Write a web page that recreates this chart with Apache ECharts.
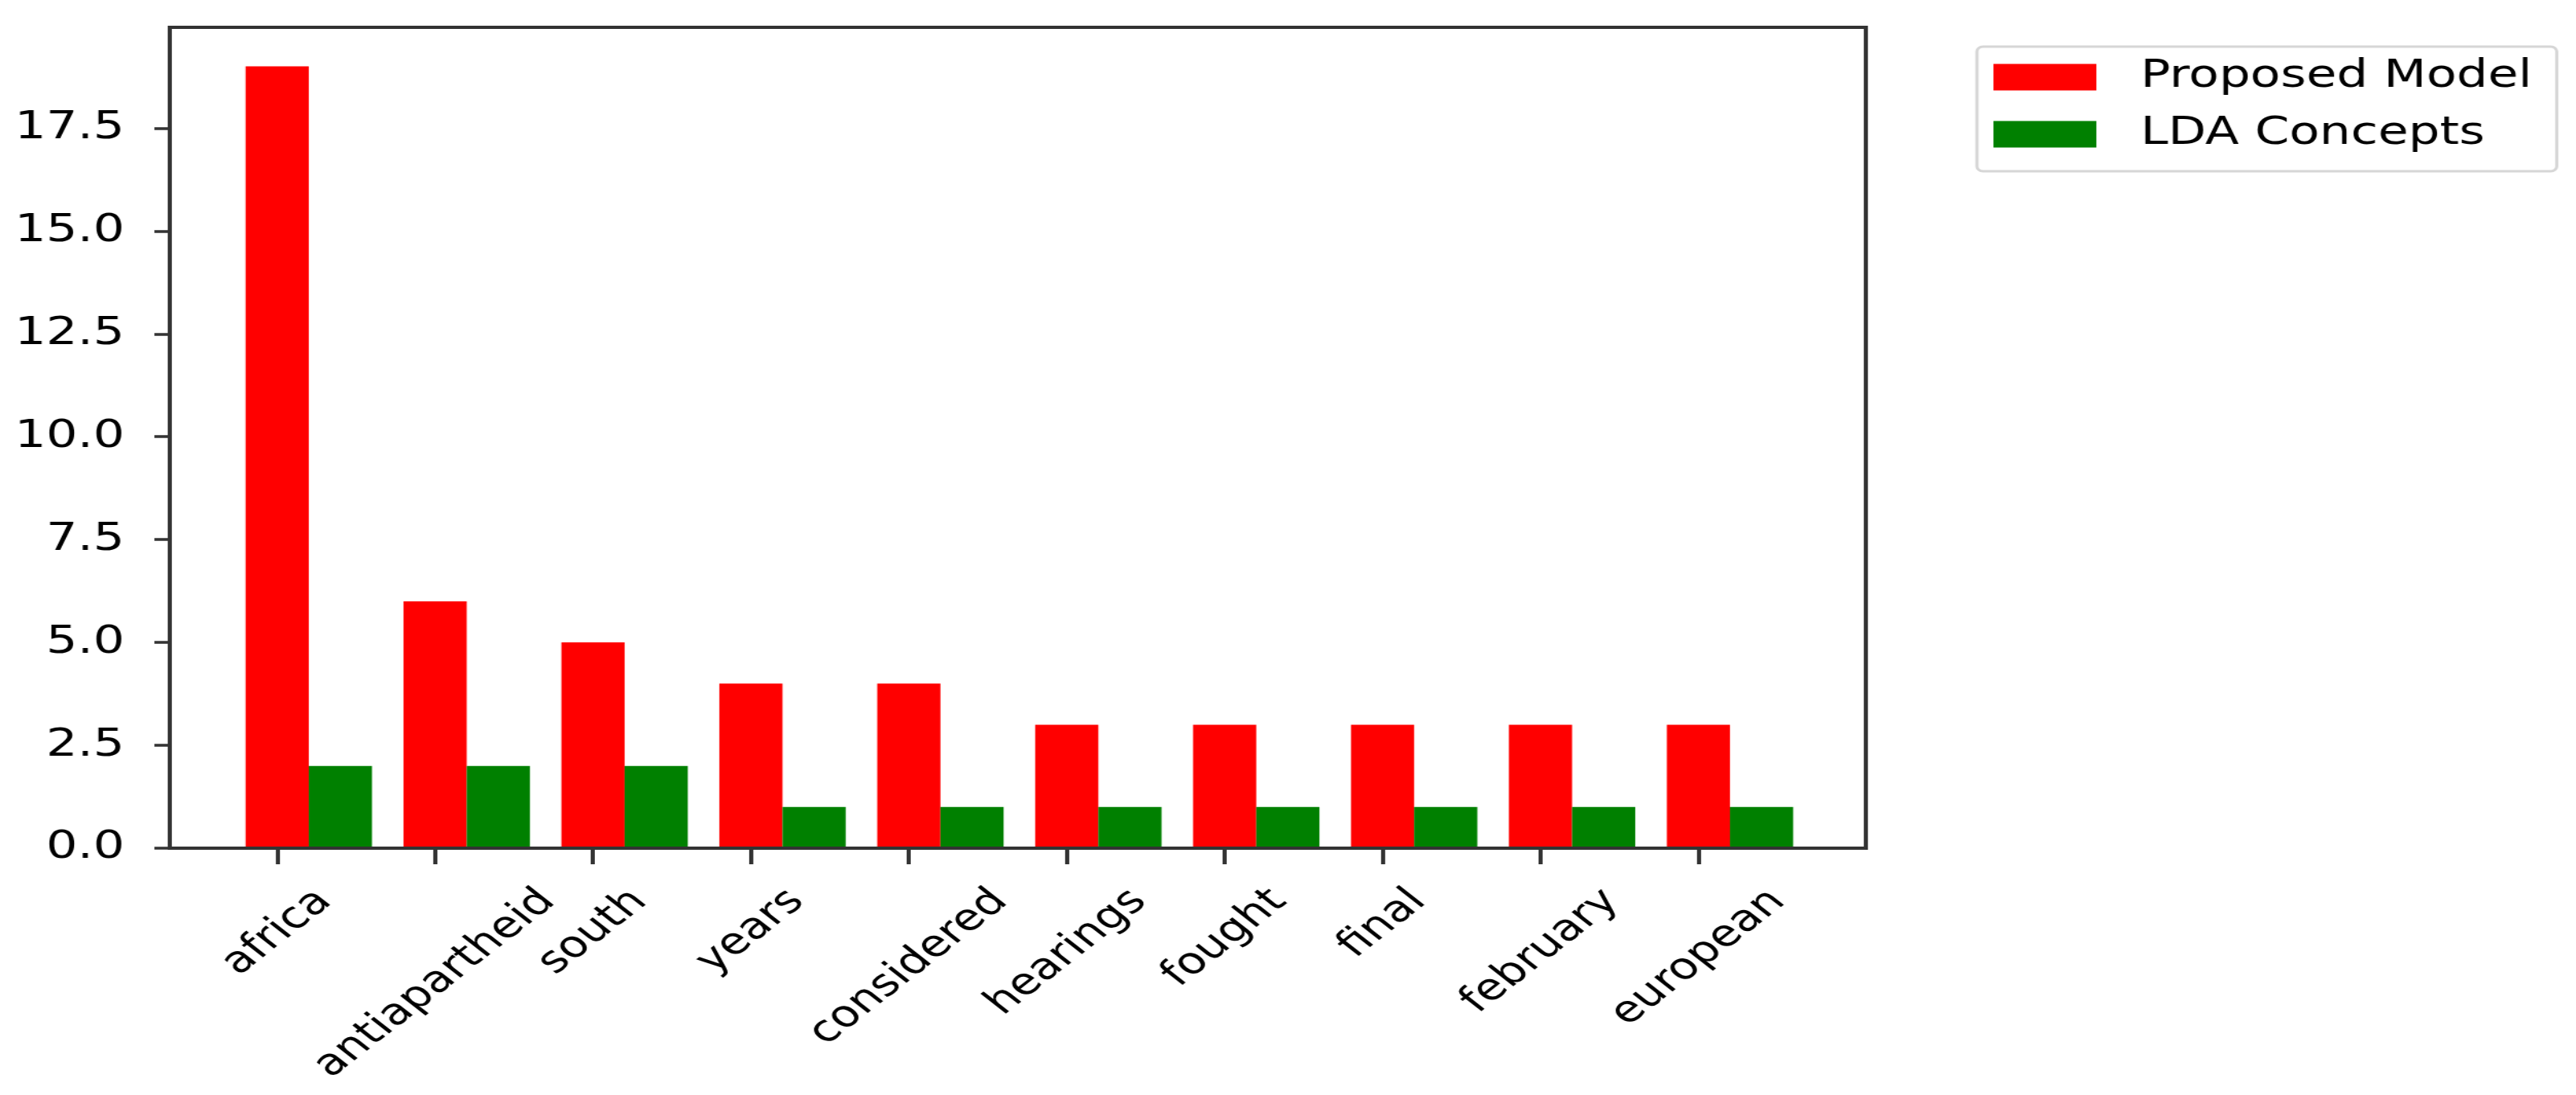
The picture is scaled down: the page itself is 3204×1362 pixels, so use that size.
<!DOCTYPE html>
<html><head><meta charset="utf-8">
<script src="https://cdn.jsdelivr.net/npm/echarts@6/dist/echarts.min.js"></script>
<style>
html,body{margin:0;padding:0;background:#fff;overflow:hidden;width:3204px;height:1362px}
#wrap{width:2503px;height:1362px;transform:scaleX(1.28);transform-origin:0 0;}
</style></head><body><div id="wrap"></div>
<script>
// ---- data ----
const categories = ['africa','antiapartheid','south','years','considered','hearings','fought','final','february','european'];
const proposedModel = [19, 6, 5, 4, 4, 3, 3, 3, 3, 3];
const ldaConcepts   = [2, 2, 2, 1, 1, 1, 1, 1, 1, 1];
const yTicks = [0, 2.5, 5, 7.5, 10, 12.5, 15, 17.5];
const seriesNames = ['Proposed Model', 'LDA Concepts'];

// ---- style constants ----
const FONT = '"DejaVu Sans", "Liberation Sans", sans-serif';
const BAR_W = 0.4;
const XLAB_SIZE = 46;
const XLAB_LH = 54;
const XLAB_TOP = 40;

const mctx = document.createElement('canvas').getContext('2d');
mctx.font = XLAB_SIZE + 'px ' + FONT;
function textW(t){ return mctx.measureText(t).width; }

function barSeries(name, values, offset, color){
  return {
    type:'custom', name:name, coordinateSystem:'cartesian2d',
    itemStyle:{color:color}, encode:{x:0, y:1},
    data: values.map((v,i)=>[i, v]),
    renderItem: function(params, api){
      const i = api.value(0), v = api.value(1);
      const a = api.coord([i + offset - BAR_W/2, v]);
      const b = api.coord([i + offset + BAR_W/2, 0]);
      return {type:'rect', shape:{x:a[0], y:a[1], width:b[0]-a[0], height:b[1]-a[1]}, style:{fill:color}};
    }
  };
}

const chart = echarts.init(document.getElementById('wrap'), null, {renderer:'canvas'});
chart.setOption({
  animation:false,
  backgroundColor:'#fff',
  grid:{left:165, right:690, top:34, bottom:307, show:true, borderColor:'#333', borderWidth:4, backgroundColor:'transparent'},
  legend:{
    data: seriesNames.map(n=>({name:n, icon:'rect'})),
    orient:'vertical', left:1921, top:58, itemWidth:100, itemHeight:33, itemGap:23,
    padding:[14,24,22,16], borderColor:'#d6d6d6', borderWidth:3, borderRadius:6, backgroundColor:'#fff',
    selectedMode:false,
    textStyle:{fontFamily:FONT, fontSize:48, color:'#000', lineHeight:48, padding:[0,0,0,38]}
  },
  xAxis:{
    type:'value', min:-0.68, max:10.06, z:5,
    axisLine:{show:true, onZero:false, lineStyle:{color:'#333', width:4}},
    axisTick:{show:true, length:20, customValues: categories.map((_,i)=>i), lineStyle:{color:'#333', width:4}},
    axisLabel:{show:false}, splitLine:{show:false}
  },
  yAxis:{
    type:'value', min:0, max:19.95, z:5,
    axisLine:{show:true, onZero:false, lineStyle:{color:'#333', width:4}},
    axisTick:{show:true, length:15, customValues:yTicks, lineStyle:{color:'#333', width:3.5}},
    axisLabel:{customValues:yTicks, formatter:v=>v.toFixed(1), fontFamily:FONT, fontSize:48, color:'#000', margin:44},
    splitLine:{show:false}
  },
  series:[
    barSeries(seriesNames[0], proposedModel, 0, '#ff0000'),
    barSeries(seriesNames[1], ldaConcepts, BAR_W, '#008000'),
    {
      type:'custom', name:'categoryLabels', coordinateSystem:'cartesian2d', silent:true, z:6,
      data: categories.map((c,i)=>[i, 0]), encode:{x:0, y:1},
      renderItem: function(params, api){
        const i = api.value(0);
        const p = api.coord([i, 0]);
        const txt = categories[i];
        const D = (textW(txt) + XLAB_LH) / (2*Math.SQRT2);
        return {type:'text', x:p[0], y:p[1] + XLAB_TOP + D, rotation:Math.PI/4,
          style:{text:txt, fill:'#000', fontFamily:FONT, fontSize:XLAB_SIZE, align:'center', verticalAlign:'middle'}};
      }
    }
  ]
});
</script></body></html>
